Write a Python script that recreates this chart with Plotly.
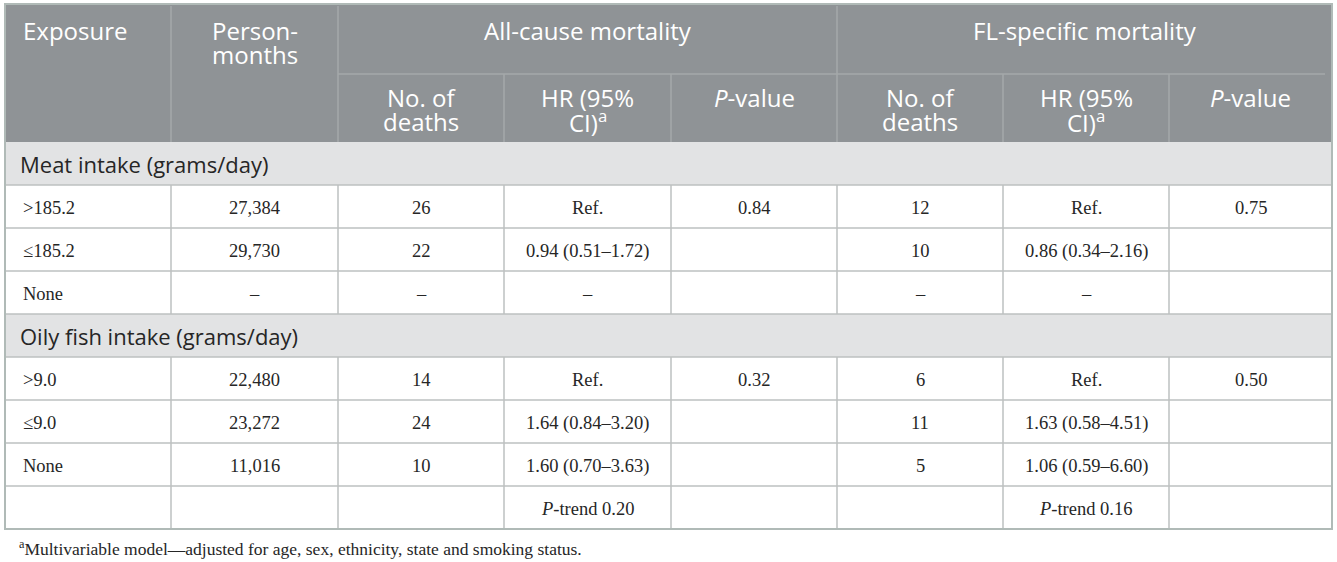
import plotly.graph_objects as go

# table content
columns_top = ["Exposure", "Person-<br>months", "All-cause mortality", "FL-specific mortality"]
columns_sub = ["No. of<br>deaths", "HR (95%<br>CI)<sup>a</sup>", "<i>P</i>-value"]
sections = ["Meat intake (grams/day)", "Oily fish intake (grams/day)"]
section_rows = [3, 4]

exposure = [">185.2", "≤185.2", "None", ">9.0", "≤9.0", "None", ""]
person_months = ["27,384", "29,730", "–", "22,480", "23,272", "11,016", ""]
all_deaths = ["26", "22", "–", "14", "24", "10", ""]
all_hr = ["Ref.", "0.94 (0.51–1.72)", "–", "Ref.", "1.64 (0.84–3.20)", "1.60 (0.70–3.63)", "<i>P</i>-trend 0.20"]
all_p = ["0.84", "", "", "0.32", "", "", ""]
fl_deaths = ["12", "10", "–", "6", "11", "5", ""]
fl_hr = ["Ref.", "0.86 (0.34–2.16)", "–", "Ref.", "1.63 (0.58–4.51)", "1.06 (0.59–6.60)", "<i>P</i>-trend 0.16"]
fl_p = ["0.75", "", "", "0.50", "", "", ""]
footnote = "<sup>a</sup>Multivariable model—adjusted for age, sex, ethnicity, state and smoking status."

# geometry
W, H = 1337, 562
col_x = [5, 171, 338, 504, 671, 837, 1003, 1169, 1332]
top, group_line, head_bottom = 4, 74, 142
row_h = 43

HEAD_BG = "#8f9396"
HEAD_LINE = "#a4a8aa"
SEC_BG = "#e2e3e4"
LINE = "#bdc0c0"
OUTER = "#b0bab7"
TXT = "#262626"
SANS = "Open Sans"
SERIF = "Liberation Serif"

shapes = []
annotations = []


def rect(x0, y0, x1, y1, fill):
    shapes.append(dict(type="rect", x0=x0, y0=y0, x1=x1, y1=y1, xref="x", yref="y",
                       fillcolor=fill, line=dict(width=0), layer="below"))


def line(x0, y0, x1, y1, color=LINE, width=1.5):
    shapes.append(dict(type="line", x0=x0, y0=y0, x1=x1, y1=y1, xref="x", yref="y",
                       line=dict(color=color, width=width)))


def text(x, y, s, size, color=TXT, family=SERIF, anchor="center"):
    if not s:
        return
    annotations.append(dict(x=x, y=y, xref="x", yref="y", text=s, showarrow=False,
                            xanchor=anchor, yanchor="middle", borderpad=0,
                            font=dict(family=family, size=size, color=color)))


def head_text(x, y, s, anchor="center"):
    # one annotation per line so the line spacing stays tight
    for i, part in enumerate(s.split("<br>")):
        text(x, y + i * 24, part, 24, "white", SANS, anchor)


# header block
rect(col_x[0], top, col_x[-1], head_bottom, HEAD_BG)
for x in [col_x[1], col_x[2], col_x[5]]:
    line(x, top + 2, x, head_bottom, HEAD_LINE)
for x in [col_x[3], col_x[4], col_x[6], col_x[7]]:
    line(x, group_line, x, head_bottom, HEAD_LINE)
line(col_x[2], group_line, col_x[-1] - 7, group_line, HEAD_LINE)

head_text(col_x[0] + 17, 30, columns_top[0], anchor="left")
head_text((col_x[1] + col_x[2]) / 2, 30, columns_top[1])
head_text((col_x[2] + col_x[5]) / 2, 30, columns_top[2])
head_text((col_x[5] + col_x[8]) / 2, 30, columns_top[3])
for g in [2, 5]:
    for k, s in enumerate(columns_sub):
        head_text((col_x[g + k] + col_x[g + k + 1]) / 2, 97, s)

# body
body_cols = [person_months, all_deaths, all_hr, all_p, fl_deaths, fl_hr, fl_p]
y = head_bottom
r = 0
for sec, n in zip(sections, section_rows):
    rect(col_x[0], y, col_x[-1], y + row_h, SEC_BG)
    text(col_x[0] + 14, y + row_h / 2, sec, 22, TXT, SANS, anchor="left")
    line(col_x[0], y + row_h, col_x[-1], y + row_h)
    y += row_h
    for _ in range(n):
        ty = y + row_h / 2 + 1.5
        text(col_x[0] + 17, ty, exposure[r], 18.5, anchor="left")
        for c, vals in enumerate(body_cols):
            text((col_x[c + 1] + col_x[c + 2]) / 2, ty, vals[r], 18.5)
        for x in col_x[1:-1]:
            line(x, y, x, y + row_h)
        line(col_x[0], y + row_h, col_x[-1], y + row_h)
        y += row_h
        r += 1

# outer frame
shapes.append(dict(type="rect", x0=col_x[0], y0=top, x1=col_x[-1], y1=y, xref="x", yref="y",
                   line=dict(color=OUTER, width=2), fillcolor="rgba(0,0,0,0)"))

text(col_x[0] + 13, y + 19, footnote, 17.5, TXT, SERIF, anchor="left")

fig = go.Figure()
fig.update_layout(
    width=W, height=H,
    margin=dict(l=0, r=0, t=0, b=0),
    plot_bgcolor="white", paper_bgcolor="white",
    xaxis=dict(range=[0, W], visible=False, fixedrange=True),
    yaxis=dict(range=[H, 0], visible=False, fixedrange=True),
    shapes=shapes,
    annotations=annotations,
    showlegend=False,
)

fig.write_html("out.html", config={"displayModeBar": False},
               post_script="document.body.style.margin='0';document.body.style.overflow='hidden';")
